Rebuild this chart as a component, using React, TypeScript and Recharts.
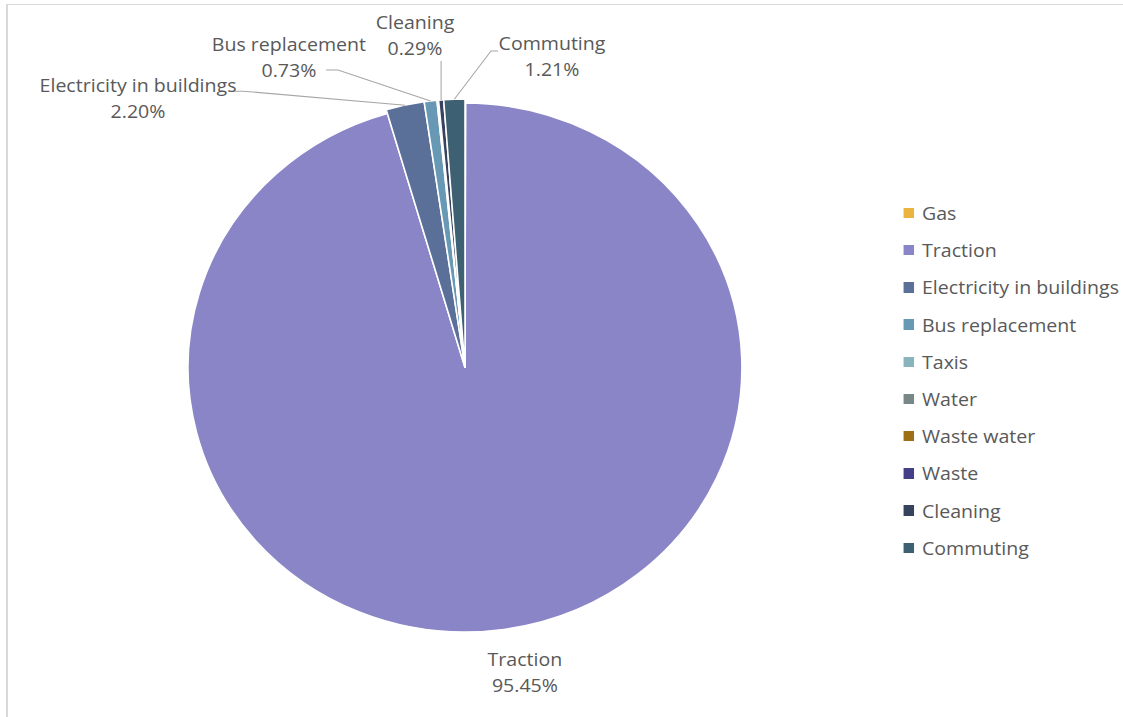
import React from 'react';
import { PieChart, Pie, Cell, Legend } from 'recharts';

const categories = ['Gas', 'Traction', 'Electricity in buildings', 'Bus replacement', 'Taxis', 'Water', 'Waste water', 'Waste', 'Cleaning', 'Commuting'];
const shares = [0.03, 95.45, 2.2, 0.73, 0.05, 0.02, 0.01, 0.01, 0.29, 1.21];
const colors = ['#EAB440', '#8985C7', '#5A7099', '#6899B4', '#8AB4BD', '#778887', '#9C6F17', '#453F8A', '#36425E', '#3D6072'];
const mainCategory = 'Traction';

const data = categories.map((name, i) => ({ name, value: shares[i] }));

const SX = 1.047;
const W = 1123;
const H = 717;
const FONT = '"Open Sans", sans-serif';
const FS = 18.7;
const TEXT = '#595959';
const LINE = '#a6a6a6';

// label placement (reference px), relative to the slice's outer-edge anchor
const labelLayout: Record<string, { dx: number; dy: number; line?: [number, number][] }> = {
  'Traction': { dx: 20.4, dy: 25.7 },
  'Electricity in buildings': { dx: -267, dy: -20, line: [[-171, -14], [-162, -14]] },
  'Bus replacement': { dx: -141.6, dy: -57, line: [[-104.6, -31], [-92.6, -31]] },
  'Cleaning': { dx: -26.1, dy: -78, line: [[0, -39]] },
  'Commuting': { dx: 97.7, dy: -56.2, line: [[43.7, -48.2], [36.7, -48.2]] },
};

const RAD = Math.PI / 180;

const renderLabel = (props: any) => {
  const { cx, cy, midAngle, outerRadius, percent } = props;
  const name = props.name ?? props.payload?.name;
  const cfg = labelLayout[name];
  if (!cfg) return null;
  const ax = cx + outerRadius * Math.cos(-midAngle * RAD);
  const ay = cy + outerRadius * Math.sin(-midAngle * RAD);
  const tx = ax + cfg.dx / SX;
  const ty = ay + cfg.dy;
  const pts = cfg.line
    ? [...cfg.line.map(([x, y]) => `${ax + x / SX},${ay + y}`), `${ax},${ay}`].join(' ')
    : null;
  return (
    <g>
      {pts && <polyline points={pts} fill="none" stroke={LINE} strokeWidth={1} />}
      <text x={tx} y={ty} textAnchor="middle" dominantBaseline="central" fill={TEXT} fontSize={FS} fontFamily={FONT}>
        {name}
      </text>
      <text x={tx} y={ty + 26} textAnchor="middle" dominantBaseline="central" fill={TEXT} fontSize={FS} fontFamily={FONT}>
        {(percent * 100).toFixed(2)}%
      </text>
    </g>
  );
};

const renderLegend = () => (
  <div style={{ position: 'relative', width: 260, height: 380, fontFamily: FONT, fontSize: FS, color: TEXT }}>
    {categories.map((c, i) => (
      <div key={c} style={{ position: 'absolute', left: 0, top: i * 37.2, height: 20, width: 260 }}>
        <span
          style={{
            position: 'absolute',
            left: 0,
            top: 4.75,
            width: 10.5 / SX,
            height: 10.5,
            background: colors[i],
          }}
        />
        <span style={{ position: 'absolute', left: 18 / SX, top: 0, lineHeight: '20px', whiteSpace: 'nowrap' }}>{c}</span>
      </div>
    ))}
  </div>
);

export default function App() {
  const cx = 465 / SX;
  const cy = 367.5;
  return (
    <div style={{ position: 'absolute', left: 0, top: 0, width: W, height: H, overflow: 'hidden', background: '#fff' }}>
      <div
        style={{
          position: 'absolute',
          left: 6,
          top: 4,
          width: W + 10,
          height: H + 10,
          borderLeft: '2px solid #d9d9d9',
          borderTop: '1.5px solid #d9d9d9',
          boxSizing: 'border-box',
        }}
      />
      <div style={{ position: 'absolute', left: 0, top: 0, width: W / SX, height: H, transform: `scaleX(${SX})`, transformOrigin: '0 0' }}>
        <PieChart width={W / SX} height={H} margin={{ top: 0, right: 0, bottom: 0, left: 0 }}>
          <Pie
            data={data}
            dataKey="value"
            nameKey="name"
            cx={cx}
            cy={cy}
            outerRadius={264.5}
            startAngle={90}
            endAngle={-270}
            isAnimationActive={false}
            label={false}
            labelLine={false}
            legendType="none"
          >
            {data.map((d, i) => (
              <Cell
                key={d.name}
                fill={d.name === mainCategory ? colors[i] : 'none'}
                stroke={d.name === mainCategory ? '#ffffff' : 'none'}
                strokeWidth={1.5}
              />
            ))}
          </Pie>
          <Pie
            data={data}
            dataKey="value"
            nameKey="name"
            cx={cx}
            cy={cy}
            outerRadius={268.5}
            startAngle={90}
            endAngle={-270}
            isAnimationActive={false}
            label={renderLabel}
            labelLine={false}
          >
            {data.map((d, i) => (
              <Cell
                key={d.name}
                fill={d.name === mainCategory ? 'none' : colors[i]}
                stroke={d.name === mainCategory ? 'none' : '#ffffff'}
                strokeWidth={1.5}
              />
            ))}
          </Pie>
          <Legend
            layout="vertical"
            align="right"
            verticalAlign="top"
            content={renderLegend}
            wrapperStyle={{ left: 904 / SX, top: 203, right: 'auto', bottom: 'auto', width: 260 }}
          />
        </PieChart>
      </div>
    </div>
  );
}
